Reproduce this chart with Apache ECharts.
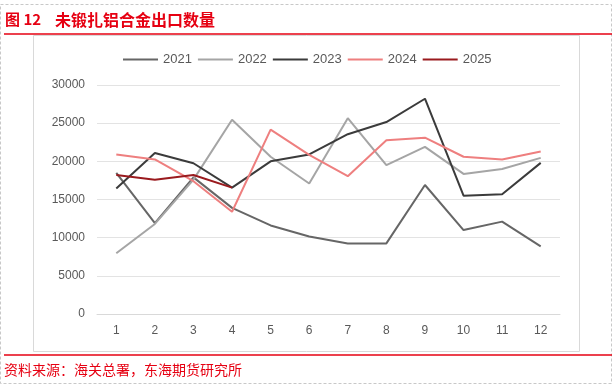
<!DOCTYPE html>
<html><head><meta charset="utf-8">
<script src="https://cdn.jsdelivr.net/npm/echarts@6/dist/echarts.min.js"></script>
<style>html,body{margin:0;padding:0;background:#fff}#c{width:616px;height:386px}</style>
</head><body><div id="c"></div>
<script>
const categories = ['1','2','3','4','5','6','7','8','9','10','11','12'];
const s2021 = [18500, 11900, 17900, 13900, 11600, 10150, 9250, 9250, 16900, 11000, 12100, 8850];
const s2022 = [7950, 11800, 17600, 25450, 20600, 17100, 25650, 19500, 21900, 18350, 19000, 20450];
const s2023 = [16450, 21100, 19750, 16550, 20000, 20900, 23550, 25150, 28200, 15500, 15700, 19800];
const s2024 = [20900, 20250, 17400, 13400, 24150, 20850, 18050, 22750, 23100, 20600, 20250, 21300];
const s2025 = [18200, 17600, 18200, 16550];
const yTicks = [0, 5000, 10000, 15000, 20000, 25000, 30000];
const seriesNames = ['2021','2022','2023','2024','2025'];
const colors = ['#666666','#a5a5a5','#3b3b3b','#ee7f7f','#9a1a1e'];
const data = [s2021, s2022, s2023, s2024, s2025];

const chart = echarts.init(document.getElementById('c'), null, {renderer:'canvas'});
const font = '"Liberation Sans", Arial, sans-serif';
chart.setOption({
  animation:false,
  backgroundColor:'#fff',
  textStyle:{fontFamily:font},
  legend:{
    left:118, top:48, itemWidth:35, itemHeight:2, itemGap:6,
    icon:'rect',
    textStyle:{color:'#595959', fontSize:13, fontFamily:font},
    data: seriesNames
  },
  grid:{left:97, right:56, top:85, bottom:72},
  xAxis:{
    type:'category', data:categories, boundaryGap:true,
    axisLine:{lineStyle:{color:'#d9d9d9'}}, axisTick:{show:false},
    axisLabel:{color:'#595959', fontSize:12, margin:11, fontFamily:font}
  },
  yAxis:{
    type:'value', min:yTicks[0], max:yTicks[yTicks.length-1], interval:5000,
    axisLine:{show:false}, axisTick:{show:false},
    splitLine:{lineStyle:{color:'#e3e3e3', width:1}},
    axisLabel:{color:'#595959', fontSize:12, margin:12, fontFamily:font, formatter:v=>String(v)}
  },
  series: seriesNames.map((n,i)=>({
    name:n, type:'line', data:data[i], showSymbol:false, symbol:'none',
    lineStyle:{color:colors[i], width:2}, itemStyle:{color:colors[i]}
  })),
  graphic:[
    {type:'rect', shape:{x:0.5,y:4.5,width:611,height:379}, style:{fill:'none', stroke:'#c8c8c8', lineWidth:1, lineDash:[3,2]}, silent:true, z:-1},
    {type:'rect', shape:{x:33.5,y:35.5,width:546,height:316}, style:{fill:'none', stroke:'#d9d9d9', lineWidth:1}, silent:true, z:-1},
    {type:'text', left:5, top:12, style:{text:'图 12', fill:'#e60012', font:'bold 15px "Noto Sans CJK SC", sans-serif'}},
    {type:'text', left:55, top:12, style:{text:'未锻扎铝合金出口数量', fill:'#e60012', font:'bold 16px "Noto Sans CJK SC", sans-serif'}},
    {type:'line', shape:{x1:4,y1:34,x2:612,y2:34}, style:{stroke:'#e60012', lineWidth:1.5}},
    {type:'line', shape:{x1:4,y1:355,x2:612,y2:355}, style:{stroke:'#e60012', lineWidth:1.5}},
    {type:'text', left:4, top:363, style:{text:'资料来源：海关总署，东海期货研究所', fill:'#e60012', font:'14px "Noto Sans CJK SC", sans-serif'}}
  ]
});
</script></body></html>
